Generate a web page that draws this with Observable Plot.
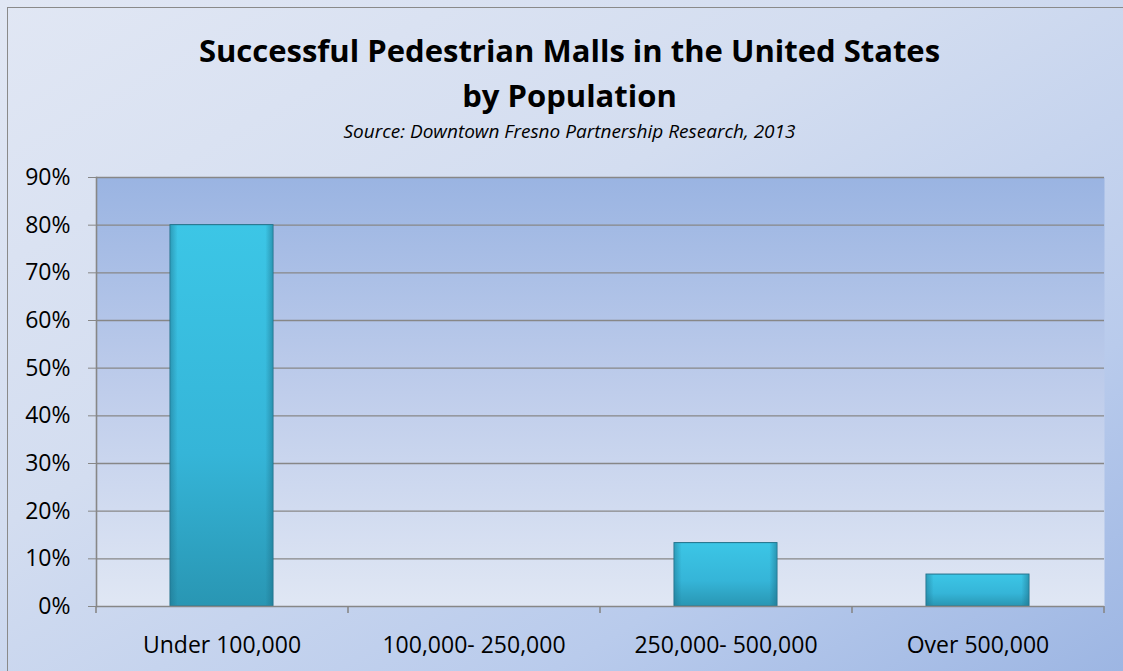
<!DOCTYPE html>
<html><head><meta charset="utf-8">
<script src="https://cdn.jsdelivr.net/npm/d3@7"></script>
<script src="https://cdn.jsdelivr.net/npm/@observablehq/plot@0.6"></script>
<style>
body{margin:0;background:#fff;}
#chart{position:relative;width:1123px;height:671px;overflow:hidden;
 background:linear-gradient(150deg,#e1e7f4 0%,#d3ddf0 40%,#b9cbec 75%,#9db6e3 100%);
 font-family:"Open Sans",sans-serif;}
#border{position:absolute;left:7px;top:7px;width:1140px;height:700px;border:1.5px solid #8a8a8a;box-sizing:border-box;}
.t{position:absolute;left:8px;width:1123px;text-align:center;color:#000;white-space:nowrap;}
#t1{top:30px;font-size:31px;font-weight:bold;line-height:40px;}
#t2{top:75px;font-size:31px;font-weight:bold;line-height:40px;}
#t3{top:120px;font-size:19px;font-style:italic;line-height:22px;}
#plot{position:absolute;left:0;top:160px;}
</style></head>
<body>
<div id="chart">
<div id="border"></div>
<div class="t" id="t1">Successful Pedestrian Malls in the United States</div>
<div class="t" id="t2">by Population</div>
<div class="t" id="t3">Source: Downtown Fresno Partnership Research, 2013</div>
<div id="plot"></div>
</div>
<script>
const categories = ["Under 100,000", "100,000- 250,000", "250,000- 500,000", "Over 500,000"];
const shares = [80, 0, 13.3, 6.7];
const yTicks = [0, 10, 20, 30, 40, 50, 60, 70, 80, 90];

const data = categories.map((c, i) => ({category: c, value: shares[i]}));
const lastCat = [categories[categories.length - 1]];

const svg = Plot.plot({
  width: 1123,
  height: 511,
  marginTop: 17,
  marginBottom: 65,
  marginLeft: 96,
  marginRight: 19,
  style: {background: "transparent", fontFamily: "'Open Sans', sans-serif", overflow: "visible"},
  x: {domain: categories, paddingInner: 0.59, paddingOuter: 0.295},
  y: {domain: [0, 90]},
  marks: [
    Plot.frame({fill: "url(#plotGrad)", stroke: null}),
    Plot.ruleY(yTicks.filter(d => d > 0), {stroke: "#878787", strokeWidth: 1.4}),
    Plot.barY(data.filter(d => d.value > 0), {x: "category", y: "value", fill: "url(#barV)", stroke: "#1f6f88", strokeWidth: 1}),
    Plot.barY(data.filter(d => d.value > 0), {x: "category", y: "value", fill: "url(#barH)", inset: 0.5}),
    Plot.ruleY([0], {stroke: "#878787", strokeWidth: 1.6}),
    Plot.frame({anchor: "left", stroke: "#878787", strokeWidth: 1.6}),
    Plot.ruleX(categories, {x: d => d, y1: 0, y2: 0, dx: -126, insetBottom: -7, stroke: "#878787", strokeWidth: 1.6}),
    Plot.ruleX(lastCat, {x: d => d, y1: 0, y2: 0, dx: 126, insetBottom: -7, stroke: "#878787", strokeWidth: 1.6}),
    Plot.axisY({ticks: yTicks, tickFormat: d => d + "%", tickSize: 8, tickPadding: 18, fontSize: 23, stroke: "#878787", fill: "#000", label: null}),
    Plot.axisX({tickSize: 0, tickPadding: 30, fontSize: 23, fill: "#000", label: null})
  ]
});

d3.select(svg).insert("defs", ":first-child").html(`
  <linearGradient id="plotGrad" x1="0" y1="0" x2="0" y2="1">
    <stop offset="0" stop-color="#9ab4e2"/>
    <stop offset="0.5" stop-color="#bfcdeb"/>
    <stop offset="1" stop-color="#e0e7f4"/>
  </linearGradient>
  <linearGradient id="barV" x1="0" y1="0" x2="0" y2="1">
    <stop offset="0" stop-color="#3cc6e6"/>
    <stop offset="0.6" stop-color="#35b5d8"/>
    <stop offset="1" stop-color="#2996b3"/>
  </linearGradient>
  <linearGradient id="barH" x1="0" y1="0" x2="1" y2="0">
    <stop offset="0" stop-color="#1d6f88" stop-opacity="0.45"/>
    <stop offset="0.07" stop-color="#1d6f88" stop-opacity="0.0"/>
    <stop offset="0.93" stop-color="#1d6f88" stop-opacity="0.0"/>
    <stop offset="1" stop-color="#1d6f88" stop-opacity="0.5"/>
  </linearGradient>
`);
document.getElementById("plot").appendChild(svg);
</script>
</body></html>
